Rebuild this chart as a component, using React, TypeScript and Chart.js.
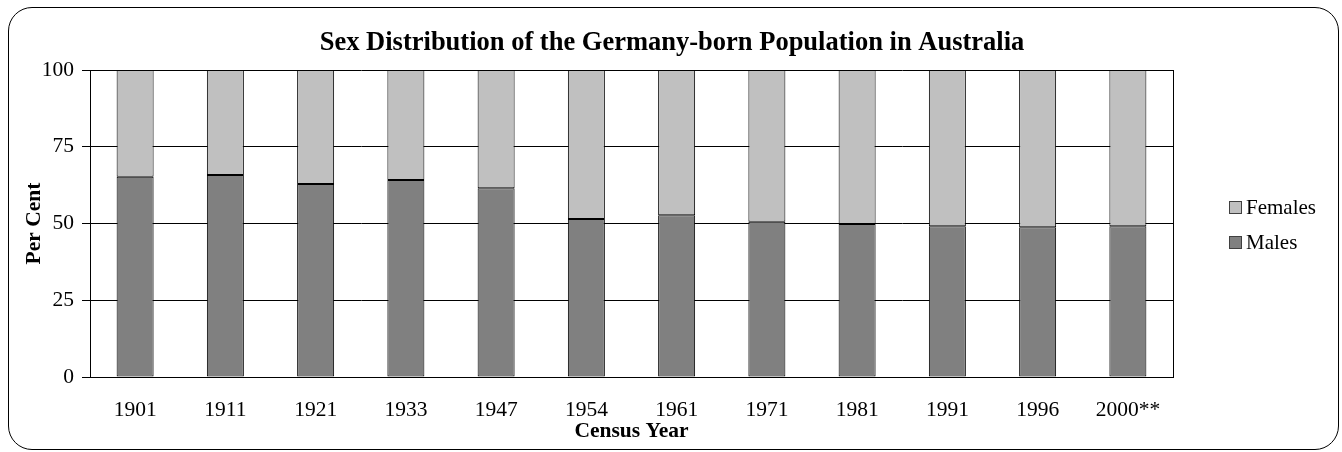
import React, { useEffect, useRef } from "react";
import { Chart, registerables } from "chart.js";

Chart.register(...registerables);

const titleText = "Sex Distribution of the Germany-born Population in Australia";
const years = ["1901", "1911", "1921", "1933", "1947", "1954", "1961", "1971", "1981", "1991", "1996", "2000**"];
const males = [65.2, 65.8, 62.9, 64.2, 61.5, 51.5, 52.7, 50.6, 49.8, 49.1, 48.8, 49.1];
const females = males.map((m) => +(100 - m).toFixed(1));
const yTicks = [0, 25, 50, 75, 100];

const FONT = "'Liberation Serif', 'Times New Roman', serif";

export default function App() {
  const ref = useRef<HTMLCanvasElement | null>(null);
  useEffect(() => {
    document.body.style.margin = "0";
    const ctx = ref.current!.getContext("2d")!;
    const chart = new Chart(ctx, {
      type: "bar",
      data: {
        labels: years,
        datasets: [
          {
            label: "Males",
            data: males,
            backgroundColor: "#808080",
            borderColor: "#000000",
            borderWidth: 1,
            borderSkipped: false,
            barPercentage: 0.41,
            categoryPercentage: 1,
          },
          {
            label: "Females",
            data: females,
            backgroundColor: "#C0C0C0",
            borderColor: "#000000",
            borderWidth: 1,
            borderSkipped: false,
            barPercentage: 0.41,
            categoryPercentage: 1,
          },
        ],
      },
      options: {
        animation: false,
        responsive: false,
        maintainAspectRatio: false,
        layout: { padding: { left: 0, right: 169, top: 70, bottom: 10 } },
        plugins: {
          title: { display: false },
          legend: { display: false },
          tooltip: { enabled: false },
        },
        scales: {
          x: {
            stacked: true,
            afterFit: (s: any) => {
              s.height = 65;
            },
            grid: { display: false, drawTicks: false },
            border: { display: true, color: "#000", width: 1 },
            ticks: {
              color: "#000",
              font: { family: FONT, size: 21.5, lineHeight: 1 },
              padding: 23,
              maxRotation: 0,
              autoSkip: false,
            },
            title: {
              display: true,
              text: "Census Year",
              color: "#000",
              font: { family: FONT, size: 21.5, weight: "bold", lineHeight: 1 },
              padding: { top: 1, bottom: 0 },
            },
          },
          y: {
            stacked: true,
            min: 0,
            max: 100,
            afterBuildTicks: (s: any) => {
              s.ticks = yTicks.map((v) => ({ value: v }));
            },
            afterFit: (s: any) => {
              s.width = 90;
            },
            grid: { color: "#000", lineWidth: 1, tickLength: 8, drawTicks: true },
            border: { display: true, color: "#000", width: 1 },
            ticks: { color: "#000", font: { family: FONT, size: 21.5 }, padding: 8 },
            title: {
              display: true,
              text: "Per Cent",
              color: "#000",
              font: { family: FONT, size: 21.5, weight: "bold", lineHeight: 1.2 },
              padding: { top: 22, bottom: 0 },
            },
          },
        },
      },
      plugins: [
        {
          id: "extras",
          afterDraw(c: any) {
            const a = c.chartArea;
            const g = c.ctx;
            g.save();
            // right border of plot
            g.strokeStyle = "#000";
            g.lineWidth = 1;
            g.beginPath();
            g.moveTo(Math.round(a.right) + 0.5, a.top);
            g.lineTo(Math.round(a.right) + 0.5, a.bottom);
            g.stroke();
            // title centered on the whole page
            g.fillStyle = "#000";
            g.font = `bold 26.5px ${FONT}`;
            g.textAlign = "center";
            g.textBaseline = "middle";
            g.fillText(titleText, c.width / 2 + 1, 43);
            // legend (reverse order)
            g.textAlign = "left";
            const ds = c.data.datasets.slice().reverse();
            const boxX = a.right + 56;
            const startY = (a.top + a.bottom) / 2 - 16;
            g.font = `21px ${FONT}`;
            ds.forEach((d: any, i: number) => {
              const cy = startY + i * 35;
              g.fillStyle = d.backgroundColor;
              g.fillRect(boxX, cy - 6.5, 13, 13);
              g.strokeStyle = "#404040";
              g.strokeRect(boxX + 0.5, cy - 6.5 + 0.5, 12, 12);
              g.fillStyle = "#000";
              g.fillText(d.label, boxX + 17, cy + 1);
            });
            g.restore();
          },
        },
      ],
    });
    return () => chart.destroy();
  }, []);
  return (
    <div style={{ position: "relative", width: 1342, height: 452, background: "#fff" }}>
      <div
        style={{
          position: "absolute",
          left: 8,
          top: 7,
          width: 1331,
          height: 443,
          border: "1px solid #000",
          borderRadius: 24,
          boxSizing: "border-box",
        }}
      />
      <canvas ref={ref} width={1342} height={452} style={{ position: "absolute", left: 0, top: 0 }} />
    </div>
  );
}
